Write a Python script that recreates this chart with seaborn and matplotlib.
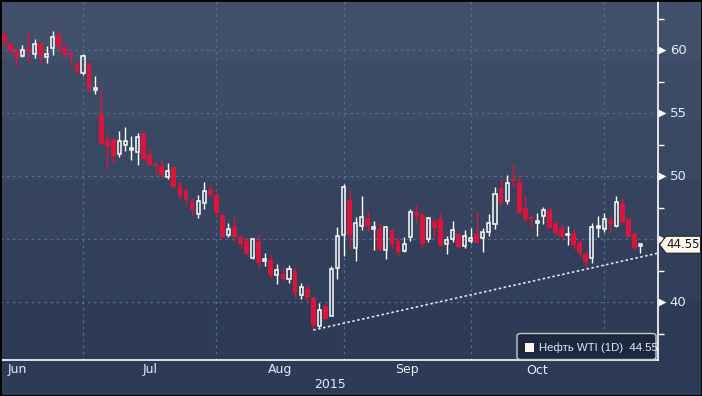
import numpy as np
import matplotlib
matplotlib.use('Agg')
import matplotlib.pyplot as plt
from matplotlib.patches import Rectangle, Polygon, FancyBboxPatch
import seaborn as sns

# --- Datos OHLC (velas diarias, WTI) ---
opens = [61.19, 60.56, 59.92, 59.55, 60.08, 59.71, 60.56, 59.42, 60.19, 61.19,
         60.21, 59.69, 58.86, 58.20, 58.97, 56.85, 54.92, 52.78, 52.94, 51.75,
         52.49, 52.06, 51.93, 53.39, 51.64, 50.98, 50.77, 49.95, 50.71, 49.26,
         48.81, 48.02, 46.98, 47.83, 48.89, 48.47, 46.90, 45.34, 45.93, 45.13,
         44.82, 43.49, 44.82, 43.25, 43.33, 42.17, 42.22, 41.83, 42.46, 40.58,
         41.01, 40.29, 38.12, 39.68, 38.91, 42.67, 45.32, 48.10, 44.26, 46.06,
         46.64, 45.82, 45.79, 44.16, 45.69, 44.84, 44.08, 45.13, 47.12, 46.90,
         44.97, 46.45, 46.59, 44.62, 45.03, 45.40, 44.47, 44.87, 45.40, 45.05,
         45.58, 46.16, 49.05, 48.04, 49.68, 49.52, 47.43, 46.72, 46.24, 46.85,
         47.30, 46.24, 45.90, 45.29, 45.50, 44.74, 43.81, 43.47, 45.90, 45.77,
         46.45, 46.06, 47.78, 46.59, 45.37, 44.45]
highs = [61.51, 60.66, 60.05, 60.40, 61.46, 60.87, 60.60, 60.32, 61.51, 61.59,
         60.45, 60.00, 59.29, 59.68, 58.99, 57.94, 56.83, 53.44, 53.04, 53.57,
         53.92, 53.17, 53.44, 53.49, 52.22, 51.27, 51.27, 51.06, 50.71, 49.68,
         49.02, 48.23, 48.49, 49.52, 49.37, 48.62, 46.98, 46.24, 46.72, 45.32,
         45.13, 44.99, 45.40, 43.86, 43.73, 42.99, 42.67, 42.94, 42.67, 41.48,
         41.43, 40.48, 39.90, 39.90, 42.86, 45.93, 49.34, 48.89, 46.77, 48.41,
         47.22, 46.43, 46.24, 46.06, 45.90, 45.24, 45.19, 47.38, 47.70, 47.09,
         46.77, 46.64, 47.12, 45.24, 46.43, 45.40, 45.71, 45.85, 47.17, 45.85,
         46.98, 49.15, 49.76, 50.08, 50.95, 50.16, 48.49, 46.98, 47.09, 47.57,
         47.57, 46.51, 46.16, 46.06, 45.79, 44.92, 44.13, 46.24, 46.85, 47.04,
         46.77, 48.41, 48.30, 46.69, 45.64, 44.58]
lows = [60.26, 59.76, 58.76, 59.42, 58.94, 59.34, 58.91, 58.99, 59.60, 59.87,
        59.47, 58.81, 58.10, 58.02, 56.66, 56.50, 52.51, 50.66, 50.95, 51.53,
        52.01, 51.27, 50.87, 51.27, 50.87, 50.16, 49.87, 49.76, 49.07, 48.23,
        47.78, 46.90, 46.69, 47.38, 48.36, 46.77, 45.11, 45.13, 44.87, 44.23,
        43.73, 43.44, 42.72, 42.88, 41.90, 41.40, 41.64, 41.48, 40.42, 40.24,
        39.97, 37.78, 37.91, 38.57, 38.91, 41.83, 43.68, 44.21, 43.25, 45.71,
        45.66, 44.13, 44.05, 43.41, 44.21, 43.65, 43.99, 44.87, 46.38, 44.31,
        44.74, 45.11, 44.47, 43.78, 44.74, 44.31, 44.31, 44.71, 44.71, 43.99,
        45.24, 45.79, 47.70, 47.78, 49.23, 47.09, 46.45, 45.98, 45.24, 46.19,
        45.90, 45.24, 44.97, 44.52, 44.21, 43.68, 42.67, 43.12, 45.19, 45.56,
        45.56, 45.93, 46.24, 45.19, 44.13, 43.92]
closes = [60.74, 59.95, 59.47, 60.00, 59.87, 60.45, 59.55, 59.66, 61.00, 60.26,
          59.66, 59.62, 58.28, 59.52, 56.93, 56.98, 52.51, 52.33, 51.61, 52.78,
          52.75, 52.20, 53.07, 51.35, 50.87, 50.82, 50.08, 50.40, 49.15, 48.44,
          48.10, 47.30, 48.02, 48.81, 48.52, 47.09, 45.13, 45.77, 45.13, 44.63,
          43.84, 44.97, 43.07, 43.33, 42.14, 42.54, 41.83, 42.62, 40.74, 41.16,
          40.40, 38.20, 39.37, 38.62, 42.59, 45.24, 49.15, 45.32, 46.24, 46.72,
          46.03, 45.95, 44.13, 45.95, 44.60, 43.99, 44.58, 47.12, 46.85, 44.60,
          46.64, 45.85, 44.47, 44.89, 45.71, 44.39, 45.24, 45.05, 44.71, 45.58,
          46.24, 48.57, 47.83, 49.42, 49.60, 47.09, 46.59, 46.59, 46.45, 47.30,
          45.90, 45.50, 45.19, 45.40, 44.52, 43.92, 43.20, 45.93, 45.98, 46.56,
          46.16, 47.91, 46.30, 45.19, 44.26, 44.55]

# Inicio de cada mes (indice de la vela) y etiquetas
month_starts = [13, 35, 56, 77, 99]
month_labels = ['Jun', 'Jul', 'Aug', 'Sep', 'Oct']
month_label_pos = [2.1, 24, 45.5, 66.5, 88]
year_label = '2015'
year_label_pos = 53.8

y_major = [40, 45, 50, 55, 60]
y_minor = [37.5, 42.5, 47.5, 52.5, 57.5, 62.5]

# Linea de tendencia (indice, precio)
trend_idx = [51, 107.9]
trend_val = [37.78, 43.88]

series_name = 'Нефть WTI (1D)'
last_price = 44.55

# --- Estilo ---
sns.set_style('dark')
plt.rcParams['font.family'] = ['DejaVu Sans']

W, H = 702, 396
fig = plt.figure(figsize=(W / 100, H / 100), dpi=100)

# Fondo con degradado escalonado
bg = fig.add_axes([0, 0, 1, 1], zorder=-2)
top_c = np.array([0x40, 0x4f, 0x6a]) / 255
bot_c = np.array([0x2e, 0x3b, 0x57]) / 255
steps = 6
rows = np.linspace(0, 1, 360)
q = np.floor(rows * steps) / (steps - 1)
grad = top_c[None, :] * (1 - q[:, None]) + bot_c[None, :] * q[:, None]
img = np.ones((H, 1, 3)) * bot_c
img[:360, 0, :] = grad
bg.imshow(img, aspect='auto', extent=[0, 1, 0, 1], origin='upper')
bg.set_axis_off()

ax = fig.add_axes([0, 36 / H, 658 / W, 1 - 36 / H])
ax.set_facecolor('none')
ax.set_xlim(-0.7, 107.9)
ax.set_ylim(35.4, 63.97)

grid_c = '#56708c'
for m in month_starts:
    ax.axvline(m, color=grid_c, lw=0.9, ls=(0, (2, 3)), zorder=1)
for v in y_major:
    ax.axhline(v, color=grid_c, lw=0.9, ls=(0, (2, 3)), zorder=1)

# Velas
idx = np.arange(len(opens))
o = np.array(opens); h = np.array(highs); l = np.array(lows); c = np.array(closes)
up = c >= o
body_lo = np.minimum(o, c)
body_hi = np.maximum(o, c)
body_h = np.maximum(body_hi - body_lo, 0.14)
red = '#dc143c'

ax.vlines(idx[~up], l[~up], h[~up], color=red, lw=1, zorder=3)
ax.bar(idx[~up], body_h[~up], bottom=body_lo[~up], width=0.8,
       color=red, edgecolor='none', zorder=4)
ax.vlines(idx[up], body_hi[up], h[up], color='white', lw=1, zorder=3)
ax.vlines(idx[up], l[up], body_lo[up], color='white', lw=1, zorder=3)
ax.bar(idx[up], body_h[up], bottom=body_lo[up], width=0.5,
       facecolor='none', edgecolor='white', lw=1.1, zorder=4)

# Linea de tendencia
sns.lineplot(x=trend_idx, y=trend_val, ax=ax, color='#e6e6e6', lw=1.2,
             linestyle=(0, (1.5, 1.5)), zorder=5)

# Ejes
for s in ['top', 'left']:
    ax.spines[s].set_visible(False)
for s in ['bottom', 'right']:
    ax.spines[s].set_visible(True)
    ax.spines[s].set_color('white')
    ax.spines[s].set_linewidth(1.2)

ax.set_xticks(month_starts)
ax.set_xticklabels([])
ax.tick_params(axis='x', direction='out', length=4, color='white', width=1)
ax.yaxis.tick_right()
ax.set_yticks(y_minor)
ax.set_yticklabels([])
ax.tick_params(axis='y', direction='out', length=4, color='white', width=1)

txt_c = '#e4ebf4'
xtr = ax.get_xaxis_transform()
for lab, pos in zip(month_labels, month_label_pos):
    ax.text(pos, -10 / 360, lab, transform=xtr, ha='center',
            va='center', color=txt_c, fontsize=9)
ax.text(year_label_pos, -24 / 360, year_label, transform=xtr,
        ha='center', va='center', color=txt_c, fontsize=9)

ytr = ax.get_yaxis_transform()
for v in y_major:
    ax.plot(1.006, v, marker='>', ms=6, color='white', mec='none',
            transform=ytr, clip_on=False)
    if abs(v - last_price) > 1:
        ax.text(1.018, v, str(v), transform=ytr, ha='left', va='center',
                color=txt_c, fontsize=9.5)

# Etiqueta del ultimo precio
ytag = ax.transData.transform((0, last_price))[1]
yt_fig = fig.transFigure.inverted().transform((0, ytag))[1]
hh = 8.5 / H
tag = Polygon([[659.5 / W, yt_fig], [666 / W, yt_fig + hh], [700.5 / W, yt_fig + hh],
               [700.5 / W, yt_fig - hh], [666 / W, yt_fig - hh]], closed=True,
              transform=fig.transFigure, facecolor='#fdf7ec', edgecolor='#222222',
              lw=0.8, zorder=10)
fig.patches.append(tag)
fig.text(683 / W, yt_fig, f'{last_price:.2f}', ha='center', va='center',
         color='#111111', fontsize=8.5, zorder=11)

# Leyenda
leg = FancyBboxPatch((517 / W, 36.5 / H), 139 / W, 26 / H,
                     boxstyle='round,pad=0,rounding_size=0.006',
                     transform=fig.transFigure, facecolor='#1d2840',
                     edgecolor='#c8c8c8', lw=1, zorder=10)
fig.patches.append(leg)
fig.patches.append(Rectangle((525 / W, 44 / H), 9 / W, 9 / H, transform=fig.transFigure,
                             facecolor='#fff4f0', edgecolor='none', zorder=11))
fig.text(539 / W, 48.5 / H, f'{series_name}  {last_price:.2f}', ha='left',
         va='center', color=txt_c, fontsize=8.2, family=['Liberation Sans', 'DejaVu Sans'],
         zorder=11)

# Marco negro
fig.patches.append(Rectangle((0, 0), 1, 1, transform=fig.transFigure, fill=False,
                             edgecolor='black', lw=2, zorder=20))

fig.savefig('out.png', dpi=100)
